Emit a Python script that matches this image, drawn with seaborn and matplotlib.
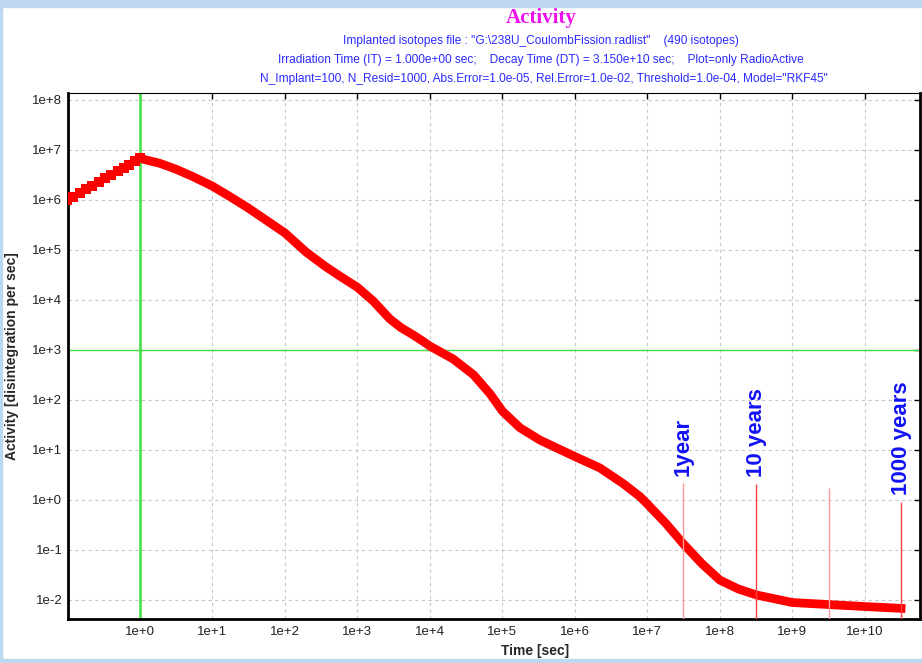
import matplotlib
matplotlib.use('Agg')
import numpy as np
import pandas as pd
import matplotlib.pyplot as plt
import seaborn as sns
from matplotlib.patches import Rectangle

# activity during irradiation (stepped part, drawn as squares)
rise_time = [0.1, 0.12, 0.15, 0.18, 0.22, 0.27, 0.33, 0.4, 0.5, 0.6, 0.72, 0.85, 1.0]
rise_act = [1.0e6, 1.16e6, 1.4e6, 1.63e6, 1.92e6, 2.3e6, 2.7e6, 3.15e6, 3.8e6, 4.4e6,
            5.1e6, 5.9e6, 6.8e6]

# activity after irradiation
decay_time = [1.0, 1.9, 3.2, 5.5, 10, 17, 30, 56, 100, 200, 370, 575, 1e3, 1.66e3, 2.8e3,
              4e3, 5.9e3, 8e3, 1e4, 2.1e4, 4e4, 6.8e4, 1e5, 1.74e5, 3.3e5, 5.6e5, 1e6,
              2.2e6, 4.7e6, 7.9e6, 1e7, 1.8e7, 3.1e7, 5.6e7, 1e8, 1.8e8, 3.2e8, 1e9,
              3.2e9, 1e10, 3.15e10]
decay_act = [6.8e6, 5.4e6, 4.1e6, 2.9e6, 1.9e6, 1.2e6, 7.2e5, 3.9e5, 2.2e5, 8.9e4, 4.6e4,
             3.0e4, 1.8e4, 9.5e3, 4.2e3, 2.8e3, 2.0e3, 1.5e3, 1.2e3, 660, 320, 132, 60,
             28, 15.8, 11, 7.4, 4.4, 2.1, 1.17, 0.83, 0.34, 0.135, 0.054, 0.025, 0.0166,
             0.0126, 0.0089, 0.0081, 0.0074, 0.0068]

# year markers
mark_time = [3.15e7, 3.15e8, 3.15e9, 3.15e10]
mark_top = [2.2, 2.1, 1.75, 0.9]
mark_label = ['1year', '10 years', '', '1000 years']
mark_color = ['#ff9a9a', '#ff4040', '#ff9a9a', '#ff4040']

x_ticks = [10.0 ** k for k in range(0, 11)]
x_labels = ['1e+%d' % k for k in range(0, 11)]
y_ticks = [10.0 ** k for k in range(-2, 9)]
y_labels = ['1e%+d' % k for k in range(-2, 9)]

subtitle = ['Implanted isotopes file : "G:\\238U_CoulombFission.radlist"    (490 isotopes)',
            'Irradiation Time (IT) = 1.000e+00 sec;    Decay Time (DT) = 3.150e+10 sec;    Plot=only RadioActive',
            'N_Implant=100, N_Resid=1000, Abs.Error=1.0e-05, Rel.Error=1.0e-02, Threshold=1.0e-04, Model="RKF45"']

sns.set_style('white')
plt.rcParams['font.family'] = ['Liberation Sans', 'DejaVu Sans']

fig = plt.figure(figsize=(9.22, 6.63), dpi=100)
fig.patch.set_facecolor('white')
ax = fig.add_axes([68 / 922, 1 - 619 / 663, 852 / 922, 526 / 663])
ax.set_xscale('log')
ax.set_yscale('log')

decay = pd.DataFrame({'time': decay_time, 'activity': decay_act})

ax.axvline(1.0, color='#3fe03f', lw=1.8, zorder=1)
ax.axhline(1e3, color='#3fe03f', lw=1.0, zorder=1)

sns.lineplot(data=decay, x='time', y='activity', color='red', lw=6.3, estimator=None,
             sort=False, ax=ax, zorder=3, solid_capstyle='projecting',
             solid_joinstyle='round')
sns.scatterplot(x=rise_time, y=rise_act, marker='s', s=48, color='red', linewidth=0,
                ax=ax, zorder=3)

ax.set_xlim(10 ** -0.99, 10 ** 10.76)
ax.set_ylim(10 ** -2.38, 10 ** 8.14)

ymin = ax.get_ylim()[0]
for t, top, lab, c in zip(mark_time, mark_top, mark_label, mark_color):
    ax.vlines(t, ymin, top, color=c, lw=1.0, zorder=4)
    if lab:
        ax.annotate(lab, (t, top), xytext=(0, 5), textcoords='offset points',
                    rotation=90, ha='center', va='bottom', color='#1212f5',
                    fontsize=16, fontweight='bold')

ax.grid(True, which='major', color='#c8c8c8', ls=(0, (3, 3)), lw=0.8)
ax.set_xticks(x_ticks, labels=x_labels)
ax.set_yticks(y_ticks, labels=y_labels)
ax.tick_params(which='both', direction='in', top=True, right=True, colors='black',
               labelcolor='#222222', labelsize=9.5)
ax.tick_params(which='major', length=4, width=1)
ax.tick_params(which='minor', length=2.5, width=0.8)
ax.tick_params(axis='x', pad=5)
ax.tick_params(axis='y', pad=4)

for side in ['left', 'bottom', 'right']:
    ax.spines[side].set_linewidth(2)
ax.spines['top'].set_linewidth(0.8)
for s in ax.spines.values():
    s.set_color('black')

ax.set_xlabel('Time [sec]', fontsize=10, fontweight='bold')
ax.set_ylabel('Activity [disintegration per sec]', fontsize=10, fontweight='bold')
ax.xaxis.set_label_coords(0.548, -0.048)
ax.yaxis.set_label_coords(-0.058, 0.5)

fig.text(541 / 922, 1 - 18 / 663, 'Activity', ha='center', va='center', color='#ee11ee',
         fontsize=15, fontweight='bold', family='Liberation Serif')
for i, line in enumerate(subtitle):
    fig.text((541 + 3 * (i == 2)) / 922, 1 - (41 + 19 * i) / 663, line, ha='center',
             va='center', color='#2a2aff', fontsize=8.6)

# light blue frame
blue = '#bdd7ee'
fig.patches.append(Rectangle((0, 1 - 7 / 663), 1, 7 / 663, transform=fig.transFigure,
                             color=blue, zorder=0))
fig.patches.append(Rectangle((0, 0), 1, 4 / 663, transform=fig.transFigure,
                             color=blue, zorder=0))
fig.patches.append(Rectangle((0, 0), 2 / 922, 1, transform=fig.transFigure,
                             color=blue, zorder=0))

fig.savefig('out.png', dpi=100)
